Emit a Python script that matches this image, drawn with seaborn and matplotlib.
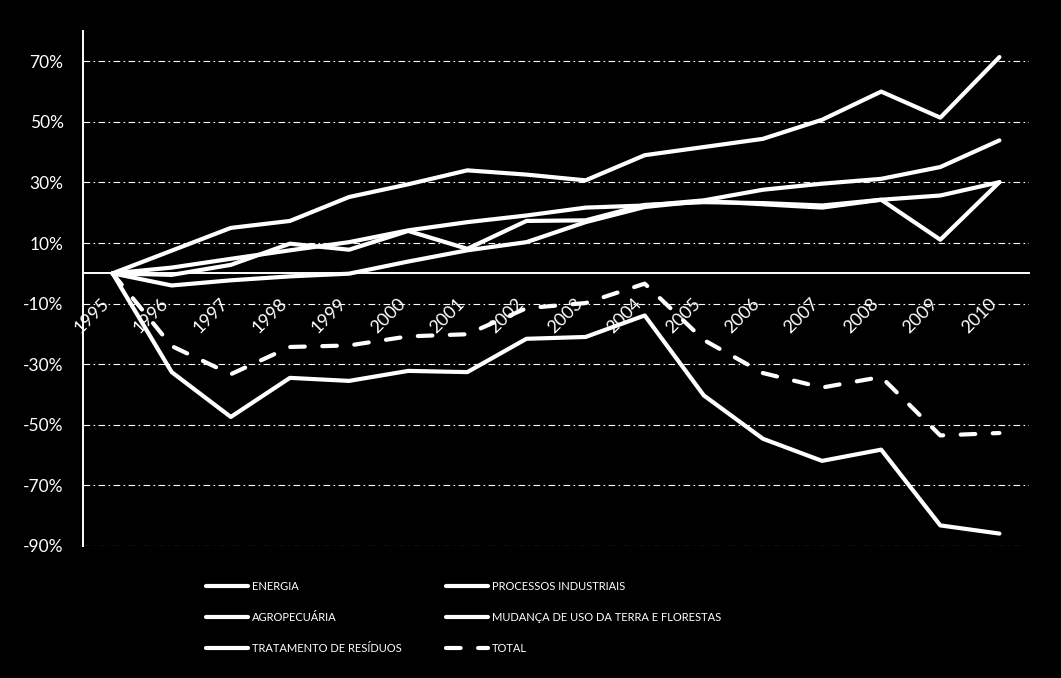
import matplotlib
matplotlib.use("Agg")
import matplotlib.pyplot as plt
from matplotlib.lines import Line2D
from matplotlib.ticker import FixedLocator
import numpy as np
import pandas as pd
import seaborn as sns

years = list(range(1995, 2011))
energia = [0, 7.5, 15.0, 17.3, 25.2, 29.4, 34.0, 32.6, 30.7, 39.0, 41.7, 44.4, 50.7, 60.0, 51.4, 71.4]
processos = [0, -0.5, 2.8, 9.8, 7.8, 14.0, 8.1, 17.3, 17.5, 22.6, 23.5, 23.2, 22.4, 24.3, 11.1, 30.1]
agropecuaria = [0, -4.0, -2.3, -1.0, -0.1, 3.9, 7.6, 10.3, 16.9, 21.9, 23.9, 22.8, 21.7, 24.3, 25.7, 30.1]
mudanca = [0, -32.6, -47.4, -34.5, -35.5, -32.2, -32.6, -21.6, -21.0, -13.9, -40.3, -54.6, -61.9, -58.2, -83.2, -85.9]
residuos = [0, 1.9, 4.8, 7.6, 10.3, 14.2, 16.9, 19.1, 21.7, 22.4, 24.1, 27.6, 29.6, 31.2, 35.1, 43.9]
total = [0, -24.0, -33.3, -24.3, -23.8, -20.8, -20.1, -11.5, -9.8, -3.4, -22.0, -32.9, -37.7, -34.2, -53.5, -52.7]

series_names = ["ENERGIA", "PROCESSOS INDUSTRIAIS", "AGROPECUÁRIA",
                "MUDANÇA DE USO DA TERRA E FLORESTAS", "TRATAMENTO DE RESÍDUOS", "TOTAL"]
series_values = [energia, processos, agropecuaria, mudanca, residuos, total]
y_ticks = [-90, -70, -50, -30, -10, 10, 30, 50, 70]

rows = []
for name, vals in zip(series_names, series_values):
    for yr, v in zip(years, vals):
        rows.append({"year": yr, "value": v, "series": name})
df = pd.DataFrame(rows)

sns.set_style("dark")
plt.rcParams["font.family"] = ["Lato", "DejaVu Sans"]

fig = plt.figure(figsize=(10.61, 6.78), dpi=100, facecolor="black")
ax = fig.add_axes([83 / 1061, 1 - 546 / 678, (1029 - 83) / 1061, (546 - 31) / 678])
ax.set_facecolor("black")

DASH = (3.5, 4.2)
palette = {n: "white" for n in series_names}
dashes = {n: "" for n in series_names}
dashes["TOTAL"] = DASH

sns.lineplot(data=df, x="year", y="value", hue="series", style="series",
             palette=palette, dashes=dashes, linewidth=3.0, ax=ax,
             legend=False, hue_order=series_names, style_order=series_names,
             zorder=3)
for ln in ax.lines:
    ln.set_solid_capstyle("round")
    ln.set_solid_joinstyle("round")
    ln.set_dash_capstyle("round")
    ln.set_dash_joinstyle("round")

ax.set_xlim(1994.5, 2010.5)
ax.set_ylim(-90, 80)

# y axis
ax.yaxis.set_major_locator(FixedLocator(y_ticks))
ax.set_yticklabels([f"{v}%" for v in y_ticks], color="white", fontsize=12.5)
ax.tick_params(axis="y", which="major", direction="out", length=5, width=1,
               color="white", pad=9)

# x axis at zero
ax.spines["bottom"].set_position(("data", 0))
for s in ["top", "right"]:
    ax.spines[s].set_visible(False)
for s in ["left", "bottom"]:
    ax.spines[s].set_color("white")
    ax.spines[s].set_linewidth(1.4)
    ax.spines[s].set_zorder(2)

ax.set_xticks(years)
ax.set_xticklabels([str(y) for y in years], rotation=45, ha="right",
                   color="white", fontsize=13)
ax.tick_params(axis="x", which="major", length=0, pad=16)
ax.xaxis.set_minor_locator(FixedLocator([y + 0.5 for y in range(1994, 2011)]))
ax.tick_params(axis="x", which="minor", direction="out", length=5, width=1,
               color="white")

ax.set_xlabel("")
ax.set_ylabel("")
ax.yaxis.grid(True, color="white", linestyle=(0, (6, 3, 1.5, 3)), linewidth=0.8)
ax.xaxis.grid(False)
ax.set_axisbelow(True)

# legends
def handle(dashed=False):
    if dashed:
        return Line2D([], [], color="white", linewidth=3.0, linestyle=(0, DASH),
                      dash_capstyle="round")
    return Line2D([], [], color="white", linewidth=3.0, solid_capstyle="round")

leg_kw = dict(frameon=False, fontsize=8, labelcolor="white", handlelength=3.8,
              handletextpad=0.3, labelspacing=1.8, borderpad=0, borderaxespad=0,
              loc="upper left")
col1 = ["ENERGIA", "AGROPECUÁRIA", "TRATAMENTO DE RESÍDUOS"]
col2 = ["PROCESSOS INDUSTRIAIS", "MUDANÇA DE USO DA TERRA E FLORESTAS", "TOTAL"]
leg1 = fig.legend([handle(n == "TOTAL") for n in col1], col1,
                  bbox_to_anchor=(206 / 1061, 1 - 581 / 678), **leg_kw)
leg2 = fig.legend([handle(n == "TOTAL") for n in col2], col2,
                  bbox_to_anchor=(446 / 1061, 1 - 581 / 678), **leg_kw)

fig.savefig("out.png", dpi=100, facecolor="black")
